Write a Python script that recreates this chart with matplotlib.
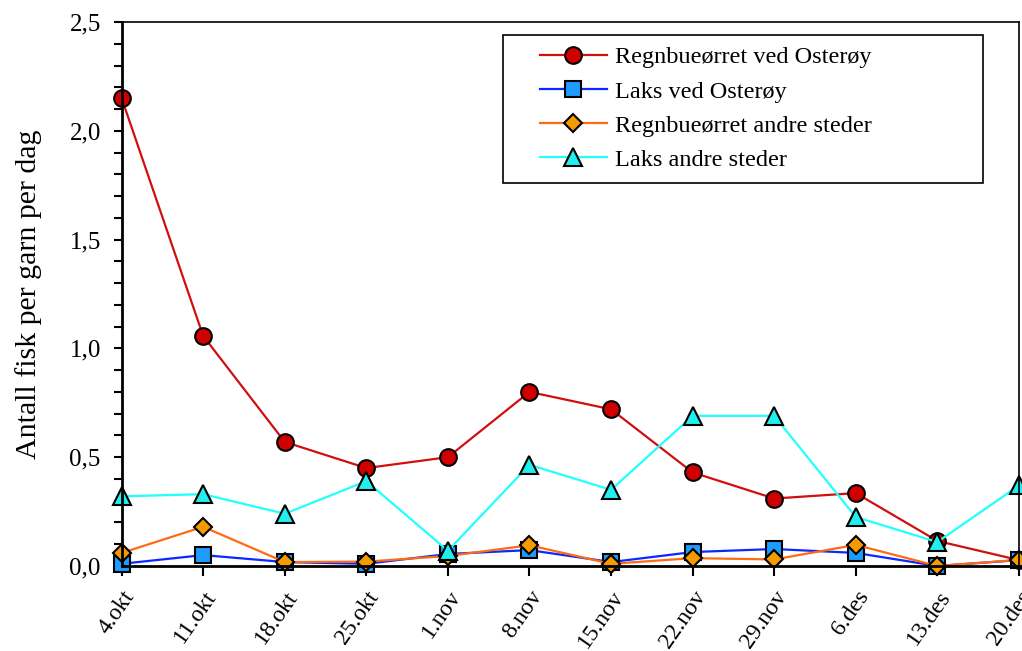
import numpy as np
import matplotlib
matplotlib.use("Agg")
import matplotlib.pyplot as plt
from matplotlib.patches import Rectangle
from matplotlib.ticker import MultipleLocator, FuncFormatter

dates = ["4.okt", "11.okt", "18.okt", "25.okt", "1.nov", "8.nov", "15.nov",
         "22.nov", "29.nov", "6.des", "13.des", "20.des"]

regn_osteroy = [2.15, 1.057, 0.57, 0.45, 0.50, 0.80, 0.72, 0.43, 0.31, 0.335, 0.115, 0.027]
laks_osteroy = [0.01, 0.05, 0.018, 0.01, 0.055, 0.073, 0.018, 0.064, 0.078, 0.06, 0.0, 0.027]
regn_andre = [0.06, 0.18, 0.018, 0.02, 0.046, 0.095, 0.01, 0.036, 0.03, 0.097, 0.0, 0.028]
laks_andre = [0.32, 0.33, 0.24, 0.39, 0.07, 0.465, 0.35, 0.69, 0.69, 0.225, 0.11, 0.37]

plt.rcParams["font.family"] = ["Liberation Serif", "DejaVu Serif"]

fig = plt.figure(figsize=(10.22, 6.51), dpi=100)
ax = fig.add_axes([0.119, 0.1306, 0.878, 0.8356])

x = np.arange(len(dates))
ms = 12
ax.plot(x, regn_osteroy, color="#d01010", lw=1.6, marker="o", ms=ms,
        mfc="#d00000", mec="black", mew=1.5, label="Regnbueørret ved Osterøy", clip_on=False)
ax.plot(x, laks_osteroy, color="#0a28ff", lw=1.6, marker="s", ms=ms - 0.5,
        mfc="#1e9bff", mec="black", mew=1.5, label="Laks ved Osterøy", clip_on=False)
ax.plot(x, regn_andre, color="#ff6a14", lw=1.6, marker="D", ms=ms - 2.5,
        mfc="#f59a00", mec="black", mew=1.5, label="Regnbueørret andre steder", clip_on=False)
ax.plot(x, laks_andre, color="#22ffff", lw=1.6, marker="^", ms=ms + 1,
        mfc="#22eeee", mec="black", mew=1.5, label="Laks andre steder", clip_on=False)

ax.set_xlim(0, len(dates) - 1)
ax.set_ylim(0, 2.5)
ax.set_xticks(x)
ax.set_xticklabels(dates, rotation=55, ha="right", va="top", rotation_mode="anchor", fontsize=17)
ax.yaxis.set_major_locator(MultipleLocator(0.5))
ax.yaxis.set_minor_locator(MultipleLocator(0.1))
ax.yaxis.set_major_formatter(FuncFormatter(lambda v, p: f"{v:.1f}".replace(".", ",")))
ax.tick_params(axis="y", which="both", direction="out", length=6, width=1.5,
               labelsize=18, pad=9)
ax.tick_params(axis="x", direction="out", length=7, width=1.5, pad=8)
ax.set_ylabel("Antall fisk per garn per dag", fontsize=21.5, labelpad=20)

for s in ["left", "bottom"]:
    ax.spines[s].set_linewidth(2)
for s in ["top", "right"]:
    ax.spines[s].set_linewidth(1.2)

# legend frame is wider than its content in the original, so draw it separately
ax.add_patch(Rectangle((0.4247, 0.704), 0.5352, 0.272, transform=ax.transAxes,
                       fill=True, facecolor="white", edgecolor="black", lw=1.2, zorder=5))
leg = ax.legend(loc="upper left", bbox_to_anchor=(0.466, 0.955), fontsize=17.5,
                frameon=False, borderpad=0, borderaxespad=0,
                labelspacing=0.5, handlelength=2.75, handletextpad=0.35)
leg.set_zorder(6)

fig.savefig("out.png", dpi=100)
